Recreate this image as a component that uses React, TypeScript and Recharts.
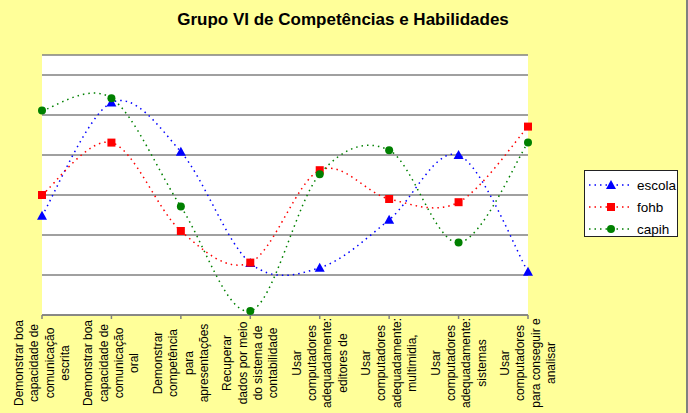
import React from "react";
import { LineChart, Line, XAxis, YAxis, CartesianGrid } from "recharts";

const title = "Grupo VI de Competências e Habilidades";

const categoryLines: string[][] = [
  ["Demonstrar boa", "capacidade de", "comunicação", "escrita"],
  ["Demonstrar boa", "capacidade de", "comunicação", "oral"],
  ["Demonstrar", "competência", "para", "apresentações"],
  ["Recuperar", "dados por meio", "do sistema de", "contabilidade"],
  ["Usar", "computadores", "adequadamente:", "editores de"],
  ["Usar", "computadores", "adequadamente:", "multimidia,"],
  ["Usar", "computadores", "adequadamente:", "sistemas"],
  ["Usar", "computadores", "para conseguir e", "analisar"],
];
const categories = categoryLines.map((l) => l.join(" "));

const escola = [2.48, 5.31, 4.08, 1.3, 1.18, 2.38, 4.0, 1.08];
const fohb = [3.0, 4.31, 2.1, 1.31, 3.62, 2.9, 2.82, 4.71];
const capih = [5.11, 5.42, 2.71, 0.1, 3.52, 4.12, 1.81, 4.31];

const yTicks = [0, 1, 2, 3, 4, 5, 6];

const data = categories.map((c, i) => ({
  name: c,
  escola: escola[i],
  fohb: fohb[i],
  capih: capih[i],
}));

const FONT = '"Liberation Sans", Arial, sans-serif';

// excel-like smoothed line (catmull-rom style bezier)
function excelCurve(context: any) {
  let pts: number[][] = [];
  return {
    areaStart() {},
    areaEnd() {},
    lineStart() {
      pts = [];
    },
    lineEnd() {
      if (!pts.length) return;
      context.moveTo(pts[0][0], pts[0][1]);
      for (let i = 0; i < pts.length - 1; i++) {
        const p0 = pts[i - 1] || pts[i];
        const p1 = pts[i];
        const p2 = pts[i + 1];
        const p3 = pts[i + 2] || p2;
        context.bezierCurveTo(
          p1[0] + (p2[0] - p0[0]) / 6,
          p1[1] + (p2[1] - p0[1]) / 6,
          p2[0] - (p3[0] - p1[0]) / 6,
          p2[1] - (p3[1] - p1[1]) / 6,
          p2[0],
          p2[1]
        );
      }
    },
    point(x: number, y: number) {
      pts.push([+x, +y]);
    },
  };
}

const Triangle = ({ cx, cy, fill }: any) => (
  <path d={`M${cx},${cy - 5}L${cx + 5},${cy + 4}L${cx - 5},${cy + 4}Z`} fill={fill} />
);
const Square = ({ cx, cy, fill }: any) => (
  <rect x={cx - 4} y={cy - 4} width={8} height={8} fill={fill} />
);
const Circle = ({ cx, cy, fill }: any) => <circle cx={cx} cy={cy} r={4} fill={fill} />;

const CategoryTick = ({ x, y, payload }: any) => {
  const lines = categoryLines[payload.index] || [];
  const mid = y + 44;
  return (
    <g>
      {lines.map((t, i) => (
        <text
          key={i}
          transform={`translate(${x + (i - 1.5) * 15.3},${mid}) rotate(-90)`}
          textAnchor="middle"
          dominantBaseline="central"
          fontSize={12}
          fontFamily={FONT}
          fill="#000"
        >
          {t}
        </text>
      ))}
    </g>
  );
};

const series = [
  { key: "escola", color: "#0000FF", Marker: Triangle },
  { key: "fohb", color: "#FF0000", Marker: Square },
  { key: "capih", color: "#008000", Marker: Circle },
];

export default function App() {
  return (
    <div
      style={{
        position: "relative",
        width: 688,
        height: 413,
        background: "#FFFF99",
        borderRight: "2px solid #808080",
        boxSizing: "border-box",
        fontFamily: FONT,
      }}
    >
      <style>{"body{margin:0}"}</style>
      <div
        style={{
          position: "absolute",
          left: 0,
          width: 686,
          top: 10,
          textAlign: "center",
          fontWeight: "bold",
          fontSize: 17,
        }}
      >
        {title}
      </div>
      <LineChart
        width={686}
        height={413}
        data={data}
        margin={{ top: 55, right: 158, bottom: 0, left: 42 }}
      >
        <CartesianGrid
          vertical={false}
          fill="#FFFFFF"
          stroke="#808080"
          strokeWidth={1.5}
        />
        <YAxis hide domain={[0, 6.5]} ticks={yTicks} />
        <XAxis
          dataKey="name"
          height={98}
          stroke="#808080"
          strokeWidth={1.5}
          tickSize={4}
          tickMargin={0}
          interval={0}
          tick={<CategoryTick />}
        />
        {series.map((s) => (
          <Line
            key={s.key}
            dataKey={s.key}
            type={excelCurve as any}
            stroke={s.color}
            strokeWidth={1.5}
            strokeDasharray="1.5 4"
            dot={(p: any) => <s.Marker key={`${s.key}-${p.index}`} cx={p.cx} cy={p.cy} fill={s.color} />}
            activeDot={false}
            isAnimationActive={false}
          />
        ))}
      </LineChart>
      <div
        style={{
          position: "absolute",
          left: 584,
          top: 170,
          width: 94,
          height: 67,
          boxSizing: "border-box",
          border: "1px solid #222",
          background: "#FFFFFF",
          paddingTop: 3,
        }}
      >
        {series.map((s) => (
          <div key={s.key} style={{ display: "flex", alignItems: "center", height: 22 }}>
            <svg width={50} height={22}>
              <line
                x1={4}
                y1={11}
                x2={46}
                y2={11}
                stroke={s.color}
                strokeWidth={1.5}
                strokeDasharray="1.5 4"
              />
              <s.Marker cx={26} cy={11} fill={s.color} />
            </svg>
            <span style={{ fontSize: 13.5, marginLeft: 2 }}>{s.key}</span>
          </div>
        ))}
      </div>
    </div>
  );
}
